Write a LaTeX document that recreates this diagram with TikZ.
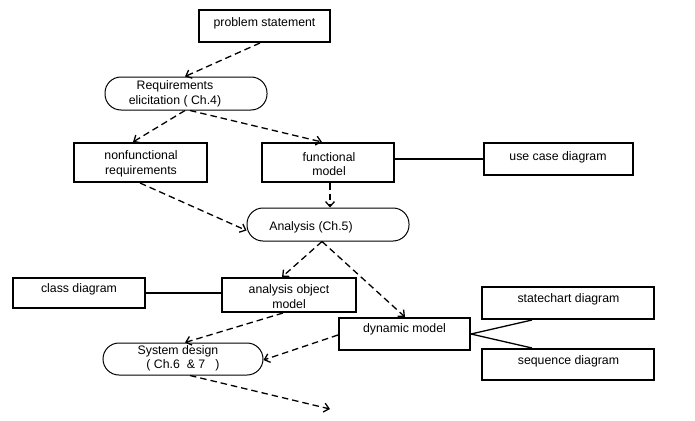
\documentclass[tikz,border=0pt]{standalone}
\usepackage{fontspec}
\setmainfont{Liberation Sans}
\usetikzlibrary{arrows.meta,calc}
\begin{document}
\begin{tikzpicture}[x=1pt,y=-1pt,
  box/.style={draw, line width=2pt, inner sep=0pt},
  rbox/.style={draw, line width=1pt, rounded corners=16pt, inner sep=0pt},
  lbl/.style={font=\fontsize{12.3}{14.5}\selectfont, align=center, inner sep=0pt},
  dep/.style={line width=1.3pt, dash pattern=on 6.5pt off 4pt, -{Straight Barb[length=5pt,width=9pt,line width=1.3pt]}},
  link/.style={line width=1.3pt}]
\useasboundingbox (0,0) rectangle (695,420);
% shapes
\node[box, minimum width=131pt, minimum height=32pt] (ps) at (264.5,26) {};
\node[lbl] (pst) at (264.5,23.5) {problem statement};
\node[rbox, minimum width=162pt, minimum height=33pt] (re) at (186,93.5) {};
\node[lbl] (ret) at (175,94) {Requirements\\elicitation ( Ch.4)};
\node[box, minimum width=133pt, minimum height=39pt] (nf) at (140.5,162.5) {};
\node[lbl] (nft) at (141,164) {nonfunctional\\requirements};
\node[box, minimum width=132pt, minimum height=39pt] (fm) at (328,162.5) {};
\node[lbl] (fmt) at (329,164) {functional\\model};
\node[box, minimum width=149pt, minimum height=32pt] (uc) at (558.5,159) {};
\node[lbl] (uct) at (558,157) {use case diagram};
\node[rbox, minimum width=162pt, minimum height=33pt] (an) at (328,224.5) {};
\node[lbl] (ant) at (311,227.5) {Analysis (Ch.5)};
\node[box, minimum width=132pt, minimum height=30pt] (cd) at (79,293) {};
\node[lbl] (cdt) at (79,289.5) {class diagram};
\node[box, minimum width=134pt, minimum height=34pt] (aom) at (289,295) {};
\node[lbl] (aomt) at (289,296.5) {analysis object\\model};
\node[box, minimum width=131pt, minimum height=32pt] (dm) at (404.5,334) {};
\node[lbl] (dmt) at (404.5,329.5) {dynamic model};
\node[box, minimum width=172pt, minimum height=32pt] (sc) at (568,303) {};
\node[lbl] (sct) at (568.5,299.5) {statechart diagram};
\node[box, minimum width=172pt, minimum height=31pt] (sq) at (568,364.5) {};
\node[lbl] (sqt) at (568.5,361) {sequence diagram};
\node[rbox, minimum width=160pt, minimum height=32pt] (sd) at (183,359) {};
\node[lbl] (sdt) at (178,358.5) {System design\\\hspace*{10pt}( Ch.6~~\&~7~~~)};
\coordinate (out) at (330,409);
% dashed arrows
\draw[dep] ([xshift=-4.5pt]ps.south) -- ([xshift=-1pt]re.north);
\draw[dep] ([xshift=-1pt]re.south) -- ([xshift=-7.5pt]nf.north);
\draw[dep] ([xshift=4pt]re.south) -- ([xshift=-6pt]fm.north);
\draw[dep] ([xshift=-0.5pt]nf.south) -- ([yshift=-6pt]an.west);
\draw[dep] ([xshift=2pt]fm.south) -- ([xshift=2pt]an.north);
\draw[dep] ([xshift=-6pt]an.south) -- ([xshift=-7pt]aom.north);
\draw[dep] ([xshift=-6pt]an.south) -- ([xshift=0.5pt]dm.north);
\draw[dep] ([xshift=-6pt]aom.south) -- ([xshift=2pt]sd.north);
\draw[dep] ([yshift=-1pt]dm.west) -- ([yshift=-1pt]sd.east);
\draw[dep] ([xshift=7pt]sd.south) -- (out);
% solid links
\draw[link] (uc.west) -- (uc.west -| fm.east);
\draw[link] (cd.east) -- (cd.east -| aom.west);
\draw[link] (dm.east) -- ([xshift=-36pt]sc.south);
\draw[link] (dm.east) -- ([xshift=-36pt]sq.north);
\end{tikzpicture}
\end{document}
